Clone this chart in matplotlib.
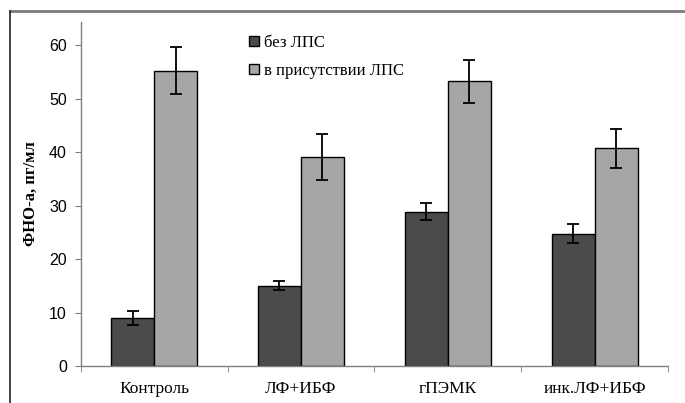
import numpy as np
import matplotlib.pyplot as plt
from matplotlib.lines import Line2D

categories = ['Контроль', 'ЛФ+ИБФ', 'гПЭМК', 'инк.ЛФ+ИБФ']
no_lps = [9.0, 15.0, 28.8, 24.7]
no_lps_err = [1.3, 0.8, 1.6, 1.8]
with_lps = [55.2, 39.0, 53.2, 40.7]
with_lps_err = [4.4, 4.3, 4.0, 3.6]

fig = plt.figure(figsize=(6.85, 4.03), dpi=100)
ax = fig.add_axes([0.1178, 0.0918, 0.8574, 0.8536])

x = np.arange(len(categories))
w = 0.293
err_kw = dict(ecolor='black', elinewidth=1.3, capsize=4, capthick=1.3)

ax.bar(x - w / 2, no_lps, w, yerr=no_lps_err, color='#4b4b4b',
       edgecolor='black', linewidth=1, label='без ЛПС', error_kw=err_kw)
ax.bar(x + w / 2, with_lps, w, yerr=with_lps_err, color='#a6a6a6',
       edgecolor='black', linewidth=1, label='в присутствии ЛПС', error_kw=err_kw)

ax.set_xlim(-0.5, 3.5)
ax.set_ylim(0, 64.3)
ax.set_yticks(range(0, 61, 10))
ax.tick_params(axis='y', direction='out', length=4, color='#808080',
               labelsize=11.5, pad=6)
for t in ax.get_yticklabels():
    t.set_family('Liberation Sans')

ax.set_xticks(x)
ax.set_xticklabels(categories, family='Liberation Serif', fontsize=12.5)
ax.set_xticks(np.arange(-0.5, 3.6, 1), minor=True)
ax.tick_params(axis='x', which='major', length=0, pad=11)
ax.tick_params(axis='x', which='minor', direction='out', length=4, color='#808080')

for s in ['top', 'right']:
    ax.spines[s].set_visible(False)
for s in ['left', 'bottom']:
    ax.spines[s].set_color('#808080')
    ax.spines[s].set_linewidth(1)

ax.set_ylabel('ФНО-а, пг/мл', family='Liberation Serif', fontweight='bold',
              fontsize=12, labelpad=7)

leg = ax.legend(loc='upper left', bbox_to_anchor=(241 / 685, 1 - 27 / 403),
                bbox_transform=fig.transFigure, frameon=False,
                prop={'family': 'Liberation Serif', 'size': 12},
                handlelength=0.55, handleheight=0.55, handletextpad=0.3,
                labelspacing=0.72, borderpad=0)

# outer frame
fig.add_artist(Line2D([10 / 685, 1], [1 - 11 / 403] * 2, transform=fig.transFigure,
                      color='#7a7a7a', linewidth=2))
fig.add_artist(Line2D([10 / 685] * 2, [0, 1 - 11 / 403], transform=fig.transFigure,
                      color='#222222', linewidth=1.2))

fig.savefig('out.png', dpi=100)
